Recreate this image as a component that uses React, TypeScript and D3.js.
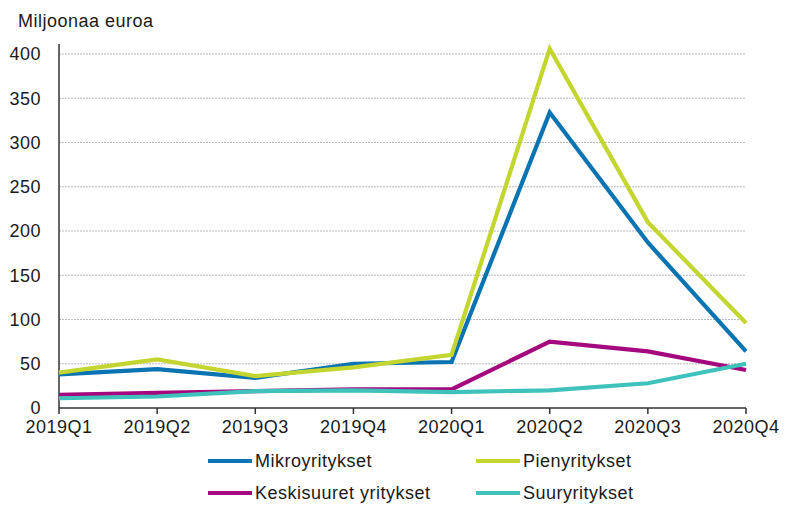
import React, { useEffect, useRef } from "react";
import * as d3 from "d3";

const categories = ["2019Q1", "2019Q2", "2019Q3", "2019Q4", "2020Q1", "2020Q2", "2020Q3", "2020Q4"];
const mikro = [38, 44, 34, 50, 52, 334, 187, 64];
const pieny = [40, 55, 36, 46, 60, 406, 210, 96];
const keski = [15, 17, 19, 21, 21, 75, 64, 43];
const suury = [11, 13, 19, 20, 18, 20, 28, 50];
const yTicks = [0, 50, 100, 150, 200, 250, 300, 350, 400];
const seriesNames = ["Mikroyritykset", "Pienyritykset", "Keskisuuret yritykset", "Suuryritykset"];
const seriesColors = ["#0a73b2", "#c3d630", "#a5077f", "#3ec2bb"];

const W = 785;
const H = 505;
const FONT = "'Liberation Sans', Arial, sans-serif";
const FS = 18;
const LS = 0.5;

export default function App() {
  const ref = useRef<SVGSVGElement>(null);
  useEffect(() => {
    const svg = d3.select(ref.current);
    svg.selectAll("*").remove();
    const left = 59, right = 746, top = 54, bottom = 408;
    const x = d3.scalePoint<string>().domain(categories).range([left, right]);
    const y = d3.scaleLinear().domain([0, 400]).range([bottom, top]);

    svg.append("g").selectAll("line").data(yTicks.filter(d => d > 0)).join("line")
      .attr("x1", left).attr("x2", right)
      .attr("y1", d => y(d)).attr("y2", d => y(d))
      .attr("stroke", "#b8b8c0").attr("stroke-width", 1).attr("stroke-dasharray", "2,1");

    svg.append("g").selectAll("text").data(yTicks).join("text")
      .attr("x", 41).attr("y", d => y(d)).attr("dy", "0.36em")
      .attr("text-anchor", "end").attr("font-family", FONT).attr("font-size", FS)
      .attr("letter-spacing", LS).attr("fill", "#1a1a1a")
      .text(d => String(d));

    svg.append("text").attr("x", 18).attr("y", 27).attr("font-family", FONT).attr("font-size", FS)
      .attr("letter-spacing", LS).attr("fill", "#1a1a1a").text("Miljoonaa euroa");

    svg.append("line").attr("x1", left).attr("x2", left).attr("y1", 44).attr("y2", bottom)
      .attr("stroke", "#333").attr("stroke-width", 1.5);
    svg.append("line").attr("x1", left).attr("x2", right).attr("y1", bottom).attr("y2", bottom)
      .attr("stroke", "#333").attr("stroke-width", 1.5);
    svg.append("g").selectAll("line").data(categories).join("line")
      .attr("x1", d => x(d)!).attr("x2", d => x(d)!).attr("y1", bottom).attr("y2", bottom + 6)
      .attr("stroke", "#333").attr("stroke-width", 1.5);
    svg.append("g").selectAll("text").data(categories).join("text")
      .attr("x", d => x(d)!).attr("y", 433).attr("text-anchor", "middle")
      .attr("font-family", FONT).attr("font-size", FS).attr("letter-spacing", LS)
      .attr("fill", "#1a1a1a").text(d => d);

    const data = [mikro, pieny, keski, suury];
    const line = d3.line<number>().x((_, i) => x(categories[i])!).y(d => y(d));
    data.forEach((s, i) => {
      svg.append("path").attr("d", line(s)!).attr("fill", "none")
        .attr("stroke", seriesColors[i]).attr("stroke-width", 4.2).attr("stroke-linejoin", "miter");
    });

    const legPos = [[208, 461], [476, 461], [208, 493], [476, 493]];
    seriesNames.forEach((n, i) => {
      const [lx, ly] = legPos[i];
      svg.append("line").attr("x1", lx).attr("x2", lx + 44).attr("y1", ly).attr("y2", ly)
        .attr("stroke", seriesColors[i]).attr("stroke-width", 4.2);
      svg.append("text").attr("x", lx + 47).attr("y", ly).attr("dy", "0.36em")
        .attr("font-family", FONT).attr("font-size", FS).attr("letter-spacing", LS)
        .attr("fill", "#1a1a1a").text(n);
    });
  }, []);
  return (
    <svg ref={ref} width={W} height={H} style={{ position: "absolute", left: 0, top: 0, background: "#fff" }} />
  );
}
